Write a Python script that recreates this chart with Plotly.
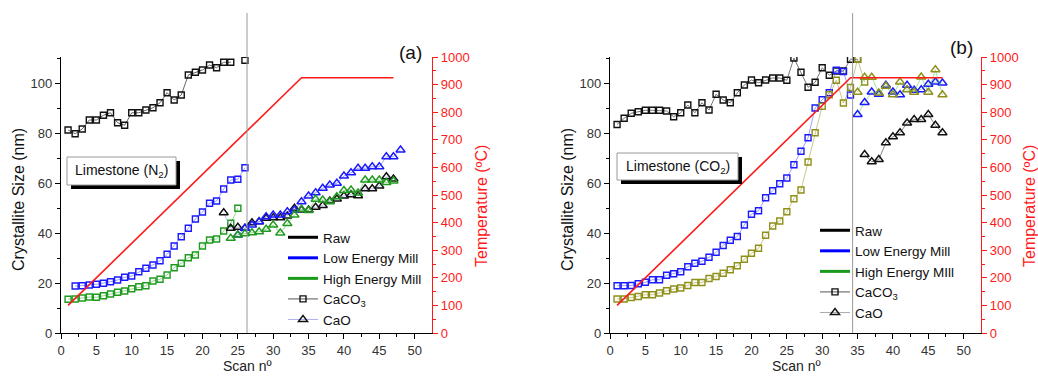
import plotly.graph_objects as go

FONT = "Arial, Liberation Sans, sans-serif"

# ---------------- data : panel (a) Limestone (N2) ----------------
a_scan_raw_caco3 = list(range(1, 25)) + [25, 26]
a_raw_caco3 = [81.2, 79.7, 81.6, 85.2, 85.2, 87.1, 88.1, 84.1, 83.1, 88.1, 88.1, 89.2, 90.1,
               92.1, 96.1, 93.2, 95.2, 103.2, 104.3, 105.2, 107.2, 106.1, 108.3, 108.3, None, 109.1]
a_scan_low_caco3 = list(range(2, 27))
a_low_caco3 = [18.8, 18.9, 19.2, 19.5, 19.9, 20.5, 21.2, 22.3, 22.8, 24.5, 25.9, 27.2, 28.9,
               31.5, 34.8, 38.5, 41.9, 45.6, 48.4, 51.9, 52.8, 57.6, 61.2, 61.5, 66.1]
a_scan_high_caco3 = list(range(1, 26))
a_high_caco3 = [13.5, 13.6, 14.0, 14.4, 14.3, 14.9, 15.6, 16.3, 16.8, 17.7, 18.5, 18.9, 20.8,
                21.5, 23.2, 26.1, 27.9, 30.1, 31.2, 34.8, 37.2, 37.6, 40.8, 43.9, 49.9]
a_scan_raw_cao = list(range(23, 48))
a_raw_cao = [48.1, 41.9, 42.3, 41.9, 44.1, 44.5, 45.9, 46.1, 46.1, 46.8, 49.9, 49.2, 49.2,
             50.3, 51.0, 52.8, 53.6, 54.8, 55.3, 54.9, 57.7, 57.7, 58.8, 62.5, 61.6]
a_scan_low_cao = list(range(25, 49))
a_low_cao = [39.2, 41.9, 43.2, 44.5, 46.5, 47.2, 47.2, 48.5, 49.2, 52.5, 54.8, 56.1, 57.9,
             59.2, 59.9, 62.8, 64.1, 65.9, 65.9, 66.5, 66.5, 70.5, 70.5, 73.2]
a_scan_high_cao = list(range(24, 48))
a_high_cao = [37.9, 39.2, 39.7, 40.1, 40.5, 41.5, 43.2, 40.0, 43.8, 47.2, 49.5, 49.0, 53.5,
              53.2, 52.5, 54.5, 57.0, 57.2, 56.0, 61.2, 61.2, 61.2, 60.2, 60.8]
a_temp_scan = [1, 34, 47]
a_temp = [100, 925, 925]
a_marker_scan = 26.3

# ---------------- data : panel (b) Limestone (CO2) ----------------
b_scan_raw_caco3 = list(range(1, 36))
b_raw_caco3 = [83.4, 85.9, 87.9, 88.5, 89.1, 89.1, 89.1, 88.8, 86.5, 88.1, 91.2, 88.1, 92.1,
               89.2, 95.5, 93.2, 92.1, 96.1, 99.2, 101.2, 100.1, 101.2, 102.0, 102.0, 101.1,
               110.0, 104.3, 98.3, 100.3, 106.1, 103.1, 104.8, 104.8, 109.5, 109.5]
b_scan_low_caco3 = list(range(1, 35))
b_low_caco3 = [18.9, 18.9, 19.0, 19.7, 20.3, 21.3, 21.3, 23.1, 23.7, 24.5, 26.5, 27.9, 28.7,
               30.3, 32.3, 35.0, 37.1, 38.6, 43.2, 47.5, 48.9, 54.1, 56.9, 59.7, 62.0, 67.3,
               72.7, 78.1, 90.0, 93.3, 96.1, 105.1, 104.6, 95.2]
b_scan_high_caco3 = list(range(1, 37))
b_high_caco3 = [13.6, 13.6, 14.2, 14.6, 15.3, 15.3, 16.0, 16.9, 17.6, 18.0, 19.0, 20.2, 20.2,
                21.8, 22.6, 23.9, 25.3, 26.9, 29.5, 31.9, 33.9, 39.1, 42.8, 44.8, 48.5, 53.7,
                57.2, 68.4, 80.1, 90.7, 95.3, 101.1, 92.0, 98.2, 109.5, 100.4]
b_scan_raw_cao = list(range(36, 48))
b_raw_cao = [71.4, 68.5, 69.4, 76.1, 78.5, 80.1, 84.0, 85.4, 85.4, 87.4, 83.1, 80.1]
b_scan_low_cao = list(range(35, 48))
b_low_cao = [87.4, 92.2, 96.4, 95.5, 99.1, 96.4, 95.3, 99.1, 97.1, 97.3, 99.5, 100.4, 100.0]
b_scan_high_cao = list(range(35, 48))
b_high_cao = [96.3, 102.3, 102.3, 96.0, 98.7, 95.3, 100.4, 97.3, 96.3, 102.4, 96.3, 105.3, 95.3]
b_temp_scan = [1, 34, 47]
b_temp = [100, 925, 925]
b_marker_scan = 34.3

legend_names = ["Raw", "Low Energy Mill", "High Energy Mill", "CaCO<sub>3</sub>", "CaO"]
legend_names_b = ["Raw", "Low Energy Mill", "High Energy MIll", "CaCO<sub>3</sub>", "CaO"]

# ---------------- layout geometry ----------------
W, H = 1038, 376
def px_x(p): return p / W
def px_y(p): return (H - p) / H

LEFT_DOM = [px_x(61), px_x(432)]
RIGHT_DOM = [px_x(610), px_x(981)]
Y_DOM = [px_y(333), px_y(57)]
XR = [0, 52.45]
YR = [0, 110.4]

fig = go.Figure()

def series(x, y, xa, ya, color, linecolor, symbol, size):
    fig.add_trace(go.Scatter(
        x=x, y=y, xaxis=xa, yaxis=ya, mode="lines+markers", showlegend=False,
        connectgaps=False, cliponaxis=True,
        line=dict(color=linecolor, width=0.9),
        marker=dict(symbol=symbol, size=size, color=color, line=dict(width=1.4, color=color)),
        hoverinfo="skip"))

SQ, TR = "square-open", "triangle-up-open"
BLACK, BLUE, GREEN, OLIVE = "#111111", "#1a1aff", "#1f9a1f", "#8f8f1a"

# panel a
series(a_scan_raw_caco3, a_raw_caco3, "x", "y", BLACK, "#555555", SQ, 6)
series(a_scan_low_caco3, a_low_caco3, "x", "y", BLUE, "rgba(60,60,255,0.55)", SQ, 6)
series(a_scan_high_caco3, a_high_caco3, "x", "y", GREEN, "rgba(40,170,40,0.55)", SQ, 6)
series(a_scan_raw_cao, a_raw_cao, "x", "y", BLACK, "rgba(150,150,230,0.7)", TR, 8)
series(a_scan_low_cao, a_low_cao, "x", "y", BLUE, "rgba(60,60,255,0.55)", TR, 8)
series(a_scan_high_cao, a_high_cao, "x", "y", GREEN, "rgba(40,170,40,0.55)", TR, 8)
fig.add_trace(go.Scatter(x=a_temp_scan, y=a_temp, xaxis="x", yaxis="y2", mode="lines",
                         showlegend=False, line=dict(color="#ff1a1a", width=1.6), hoverinfo="skip"))

# panel b
series(b_scan_raw_caco3, b_raw_caco3, "x2", "y3", BLACK, "#666666", SQ, 6)
series(b_scan_low_caco3, b_low_caco3, "x2", "y3", BLUE, "rgba(60,60,255,0.55)", SQ, 6)
series(b_scan_high_caco3, b_high_caco3, "x2", "y3", OLIVE, "rgba(150,150,40,0.6)", SQ, 6)
series(b_scan_raw_cao, b_raw_cao, "x2", "y3", BLACK, "#777777", TR, 8)
series(b_scan_low_cao, b_low_cao, "x2", "y3", BLUE, "rgba(80,200,80,0.6)", TR, 8)
series(b_scan_high_cao, b_high_cao, "x2", "y3", OLIVE, "rgba(80,200,80,0.6)", TR, 8)
fig.add_trace(go.Scatter(x=b_temp_scan, y=b_temp, xaxis="x2", yaxis="y4", mode="lines",
                         showlegend=False, line=dict(color="#ff1a1a", width=1.6), hoverinfo="skip"))

# legend entries
def legend_entries(names, leg, xa, ya, cao_line):
    fig.add_trace(go.Scatter(x=[None], y=[None], xaxis=xa, yaxis=ya, mode="lines", name=names[0],
                             legend=leg, line=dict(color="#000000", width=3)))
    fig.add_trace(go.Scatter(x=[None], y=[None], xaxis=xa, yaxis=ya, mode="lines", name=names[1],
                             legend=leg, line=dict(color="#0000ff", width=3)))
    fig.add_trace(go.Scatter(x=[None], y=[None], xaxis=xa, yaxis=ya, mode="lines", name=names[2],
                             legend=leg, line=dict(color="#1a9a1a", width=3)))
    fig.add_trace(go.Scatter(x=[None], y=[None], xaxis=xa, yaxis=ya, mode="lines+markers",
                             name=names[3], legend=leg, line=dict(color="#555555", width=1),
                             marker=dict(symbol=SQ, size=6, color="#111111", line=dict(width=1.4))))
    fig.add_trace(go.Scatter(x=[None], y=[None], xaxis=xa, yaxis=ya, mode="lines+markers",
                             name=names[4], legend=leg, line=dict(color=cao_line, width=1),
                             marker=dict(symbol=TR, size=8, color="#111111", line=dict(width=1.4))))

legend_entries(legend_names, "legend", "x", "y", "#b0b0f0")
legend_entries(legend_names_b, "legend2", "x2", "y3", "#aaaaaa")

tickfont = dict(family=FONT, size=13, color="#333333")
redfont = dict(family=FONT, size=13, color="#ff1a1a")

def xaxis(dom, anchor):
    return dict(domain=dom, anchor=anchor, range=XR, showgrid=False, zeroline=False,
                showline=True, linecolor="#000000", linewidth=1.2, ticks="outside",
                ticklen=5, tickcolor="#000000", dtick=5, tick0=0, tickfont=tickfont,
                automargin=False,
                minor=dict(ticks="outside", ticklen=3, dtick=2.5, tickcolor="#000000"))

def yaxis(anchor):
    return dict(domain=Y_DOM, anchor=anchor, range=YR, showgrid=False, zeroline=False,
                showline=True, linecolor="#000000", linewidth=1.2, ticks="outside",
                ticklen=5, tickcolor="#000000", tickvals=[0, 20, 40, 60, 80, 100],
                tickfont=tickfont, automargin=False,
                minor=dict(ticks="outside", ticklen=3, tickvals=[10, 30, 50, 70, 90, 110],
                           tickcolor="#000000"))

def taxis(overlay, anchor):
    return dict(overlaying=overlay, anchor=anchor, side="right", range=[0, 1000],
                showgrid=False, zeroline=False, showline=True, linecolor="#ff1a1a",
                linewidth=1.2, ticks="outside", ticklen=5, tickcolor="#ff1a1a", dtick=100,
                tickfont=redfont, automargin=False,
                minor=dict(ticks="outside", ticklen=3, dtick=50, tickcolor="#ff1a1a"))

shapes = []
annotations = []
for (xr, yr, ms, box, label, lbl_xy, panel_cx, templx) in [
        ("x", "y", a_marker_scan, (67, 157, 176, 185), "Limestone (N<sub>2</sub>)", (410, 52), 247, 481),
        ("x2", "y3", b_marker_scan, (617, 153, 738, 180), "Limestone (CO<sub>2</sub>)", (961, 48), 796, 1029)]:
    shapes.append(dict(type="line", xref=xr, yref=yr + " domain", x0=ms, x1=ms, y0=0,
                       y1=(333 - 13) / 276, line=dict(color="#9a9a9a", width=1)))
    x0, y0, x1, y1 = box
    shapes.append(dict(type="rect", xref="paper", yref="paper", x0=px_x(x0 + 4), x1=px_x(x1 + 4),
                       y0=px_y(y1 + 4), y1=px_y(y0 + 4), fillcolor="#000000",
                       line=dict(width=0)))
    shapes.append(dict(type="rect", xref="paper", yref="paper", x0=px_x(x0), x1=px_x(x1),
                       y0=px_y(y1), y1=px_y(y0), fillcolor="#ffffff",
                       line=dict(color="#9a9a9a", width=1)))
    annotations.append(dict(xref="paper", yref="paper", x=px_x((x0 + x1) / 2),
                            y=px_y((y0 + y1) / 2), text=label, showarrow=False,
                            font=dict(family=FONT, size=14, color="#111111"),
                            xanchor="center", yanchor="middle"))
    annotations.append(dict(xref="paper", yref="paper", x=px_x(lbl_xy[0]), y=px_y(lbl_xy[1]),
                            text="(a)" if xr == "x" else "(b)", showarrow=False,
                            font=dict(family=FONT, size=19, color="#111111"),
                            xanchor="center", yanchor="middle"))
    annotations.append(dict(xref="paper", yref="paper", x=px_x(panel_cx), y=px_y(366),
                            text="Scan nº", showarrow=False,
                            font=dict(family=FONT, size=14, color="#222222"),
                            xanchor="center", yanchor="middle"))
    annotations.append(dict(xref="paper", yref="paper", x=px_x(templx), y=px_y(206),
                            text="Temperature (ºC)", showarrow=False, textangle=-90,
                            font=dict(family=FONT, size=16, color="#ff1a1a"),
                            xanchor="center", yanchor="middle"))
    annotations.append(dict(xref="paper", yref="paper",
                            x=px_x(18 if xr == "x" else 567), y=px_y(200),
                            text="Crystallite Size (nm)", showarrow=False, textangle=-90,
                            font=dict(family=FONT, size=16, color="#111111"),
                            xanchor="center", yanchor="middle"))

leg_common = dict(xanchor="left", yanchor="top", bgcolor="rgba(0,0,0,0)",
                  font=dict(family=FONT, size=13.5, color="#111111"), tracegroupgap=0,
                  itemwidth=30)

fig.update_layout(
    width=W, height=H, margin=dict(l=0, r=0, t=0, b=0, pad=0, autoexpand=False),
    paper_bgcolor="#ffffff", plot_bgcolor="#ffffff",
    font=dict(family=FONT),
    xaxis=xaxis(LEFT_DOM, "y"),
    yaxis=yaxis("x"),
    yaxis2=taxis("y", "x"),
    xaxis2=xaxis(RIGHT_DOM, "y3"),
    yaxis3=yaxis("x2"),
    yaxis4=taxis("y3", "x2"),
    legend=dict(x=px_x(283), y=px_y(222), **leg_common),
    legend2=dict(x=px_x(815), y=px_y(215), **leg_common),
    shapes=shapes, annotations=annotations,
)

fig.write_html("out.html")
